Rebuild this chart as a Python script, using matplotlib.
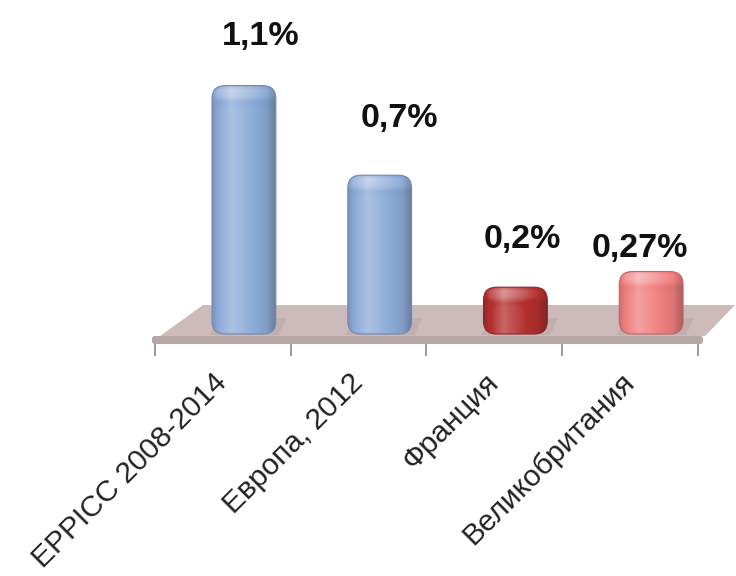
import numpy as np
import matplotlib
matplotlib.use("Agg")
import matplotlib.pyplot as plt
from matplotlib.patches import FancyBboxPatch, Polygon
from matplotlib.colors import to_rgb

# ---- data ----
categories = ["EPPICC 2008-2014", "Европа, 2012", "Франция", "Великобритания"]
values = [1.1, 0.7, 0.2, 0.27]
value_labels = ["1,1%", "0,7%", "0,2%", "0,27%"]
bar_colors = ["#8dabd8", "#8dabd8", "#b3302f", "#f07f7f"]

# manual label nudges (pixels) relative to each bar top
label_offsets = [(17, 41), (20, 48), (7, 39), (-11, 15)]

plt.rcParams["font.family"] = ["Liberation Sans", "DejaVu Sans"]

W, H, DPI = 736, 576, 100
fig = plt.figure(figsize=(W / DPI, H / DPI), dpi=DPI)
ax = fig.add_axes([0, 0, 1, 1])

# layout: pixels per category and per value unit
PX, PY = 135.75, 224.0
X_LEFT_PX, BASE_PX = 155.0, 332.0
xlim = (-0.5 - X_LEFT_PX / PX, -0.5 + (W - X_LEFT_PX) / PX)
ylim = ((BASE_PX - H) / PY, BASE_PX / PY)


def px_x(p):
    return (p - X_LEFT_PX) / PX - 0.5


def px_y(p):
    return (BASE_PX - p) / PY


# ---- 3D floor ----
y_front_bot = px_y(344)
y_front_top = px_y(336)
y_back = px_y(305)
top_face = Polygon(
    [(px_x(160), y_front_top), (px_x(705), y_front_top),
     (px_x(735), y_back), (px_x(203), y_back)],
    closed=True, facecolor="#cdbaba", edgecolor="none", zorder=1)
ax.add_patch(top_face)
front_face = FancyBboxPatch(
    (px_x(152), y_front_bot), px_x(703) - px_x(152), y_front_top - y_front_bot,
    boxstyle="round,pad=0,rounding_size=0.02", mutation_aspect=PX / PY,
    facecolor="#b6a8a8", edgecolor="none", zorder=1)
ax.add_patch(front_face)

# category separators under the floor
n = len(categories)
for k in range(n + 1):
    ax.plot([k - 0.5, k - 0.5], [y_front_bot, px_y(356)],
            color="#8a8a8a", lw=1.2, zorder=1, solid_capstyle="butt")


# ---- shaded rounded bars ----
def shade(rgb, f):
    rgb = np.asarray(rgb)
    if f >= 1:
        return rgb + (1 - rgb) * (f - 1) * 2.2
    return rgb * f


DEPTH_SHIFT = 0.155
BAR_W = 0.47
R = 13.0 / PX
for i, (v, c) in enumerate(zip(values, bar_colors)):
    base = np.array(to_rgb(c))
    xl = i + DEPTH_SHIFT - BAR_W / 2
    y0 = px_y(334)

    # soft shadow where the bar meets the floor
    shadow = Polygon(
        [(xl - 0.02, y0 - 0.005), (xl + BAR_W + 0.02, y0 - 0.005),
         (xl + BAR_W + 0.08, px_y(318)), (xl + 0.06, px_y(318))],
        closed=True, facecolor="#a89494", edgecolor="none", alpha=0.3,
        zorder=1.5)
    ax.add_patch(shadow)

    patch = FancyBboxPatch(
        (xl, y0), BAR_W, v - y0,
        boxstyle=f"round,pad=0,rounding_size={R}", mutation_aspect=PX / PY,
        facecolor="none", edgecolor=shade(base, 0.8), lw=0.8, zorder=3)
    ax.add_patch(patch)

    nx, ny = 80, 120
    t = np.linspace(0, 1, nx)
    hprof = np.interp(t, [0, 0.08, 0.3, 0.6, 0.85, 1.0],
                      [0.86, 0.98, 1.12, 1.02, 0.92, 0.74])
    hpx = (v - y0) * PY
    d = np.linspace(0, hpx, ny)  # distance from top in pixels
    vprof = np.interp(d, [0, 4, 10, 16, 22, hpx + 1],
                      [1.02, 1.10, 1.08, 0.98, 1.0, 1.0])
    img = np.clip(
        np.array([[shade(base, hprof[c_] * vprof[r_]) for c_ in range(nx)]
                  for r_ in range(ny)]), 0, 1)
    im = ax.imshow(img, extent=(xl, xl + BAR_W, y0, v), origin="upper",
                   aspect="auto", interpolation="bilinear", zorder=2)
    im.set_clip_path(patch)

    dx, dy = label_offsets[i]
    ax.annotate(value_labels[i], xy=(i + DEPTH_SHIFT, v),
                xytext=(dx, dy), textcoords="offset pixels",
                ha="center", va="baseline", fontsize=24.5, fontweight="bold",
                color="#111111", zorder=5)

# ---- rotated category labels ----
for i, cat in enumerate(categories):
    ax.annotate(cat, xy=(i, y_front_bot), xytext=(0, -34),
                textcoords="offset pixels", ha="right", va="center",
                rotation=45, rotation_mode="anchor", fontsize=21.5,
                color="#222222", zorder=5)

ax.set_xlim(*xlim)
ax.set_ylim(*ylim)
ax.axis("off")
fig.savefig("out.png", dpi=DPI, facecolor="white")
